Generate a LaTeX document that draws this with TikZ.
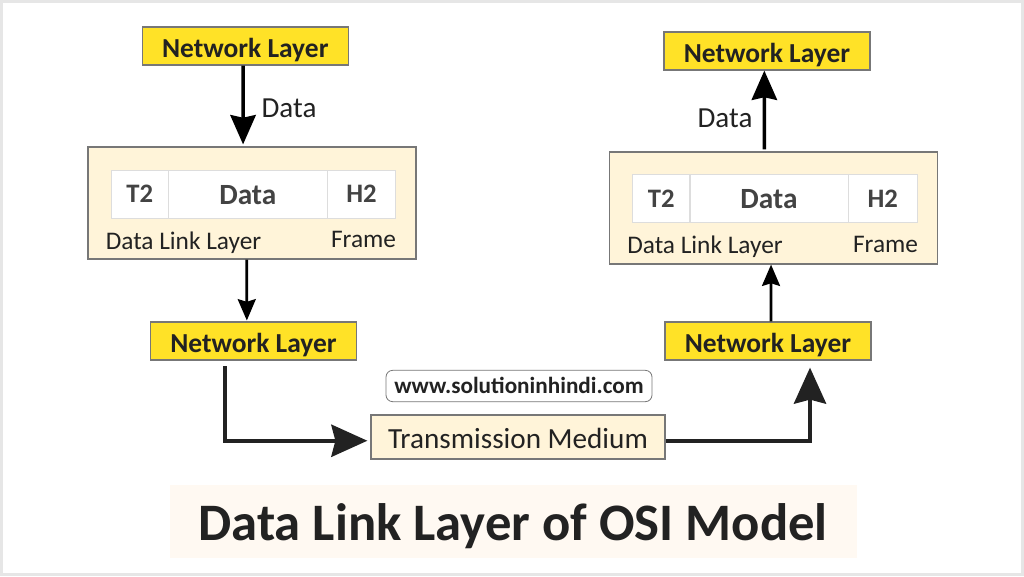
\documentclass[tikz,border=0pt]{standalone}
\usepackage{fontspec}
\setmainfont{Carlito}
\usetikzlibrary{arrows.meta}
\definecolor{ylw}{HTML}{FFE227}
\definecolor{crm}{HTML}{FFF4D9}
\definecolor{ink}{HTML}{222222}
\definecolor{edge}{HTML}{777777}
\definecolor{frm}{HTML}{E6E6E6}
\definecolor{ttl}{HTML}{FFF9F2}
\definecolor{cellline}{HTML}{DDDDDD}
\tikzset{
 x=0.75pt,y=-0.75pt,
 nlbox/.style={draw=edge,line width=0.9pt,fill=ylw,text=ink,minimum width=154.5pt,inner sep=0pt,text height=23pt,text depth=5.5pt,font=\bfseries\fontsize{20.6pt}{24pt}\selectfont},
 dlbox/.style={draw=edge,line width=0.9pt,fill=crm,minimum width=246pt,minimum height=84pt,inner sep=0pt},
 cell/.style={draw=cellline,line width=0.7pt,fill=white,text=ink!85,inner sep=0pt,text height=24.3pt,text depth=11.7pt,font=\bfseries\fontsize{20pt}{22pt}\selectfont},
 cellbig/.style={cell,text height=25.5pt,text depth=10.5pt,font=\bfseries\fontsize{22pt}{24pt}\selectfont},
 lbl/.style={text=ink,inner sep=0pt,anchor=base,font=\fontsize{19pt}{22pt}\selectfont},
 lblbig/.style={lbl,font=\fontsize{21.8pt}{24pt}\selectfont},
 fatline/.style={line width=3.3pt,draw=ink,line join=miter},
 midline/.style={line width=2.6pt,draw=black},
 thinline/.style={line width=2pt,draw=black},
 bighead/.style={-{Stealth[length=22pt,width=19pt,inset=2pt]}},
 smallhead/.style={-{Stealth[length=16pt,width=13.5pt,inset=2pt]}},
 fathead/.style={-{Stealth[length=27pt,width=24pt,inset=3pt]}},
}
\begin{document}
\begin{tikzpicture}
\useasboundingbox (0,0) rectangle (1024,576);
\fill[frm] (0,0) rectangle (1024,576);
\fill[white] (3,3) rectangle (1021,573);
\fill[ttl] (170,485) rectangle (857,558);
\node[text=ink,inner sep=0pt,anchor=base,font=\bfseries\fontsize{39.5pt}{44pt}\selectfont] (title) at (513,540) {Data Link Layer of OSI Model};

\node[nlbox] (nla) at (245.3,46) {Network Layer};
\node[dlbox] (dla) at (252,203) {};
\node[cell,minimum width=42.7pt] (ta) at (139.7,194) {T2};
\node[cellbig,minimum width=119.2pt] (da) at (247.8,194) {Data};
\node[cell,minimum width=51.3pt] (ha) at (361.5,194) {H2};
\node[lbl] (la) at (183.5,249) {Data Link Layer};
\node[lbl] (fa) at (363.5,247.7) {Frame};
\node[lblbig] (dta) at (289,117.5) {Data};
\node[nlbox] (nlc) at (253.5,341) {Network Layer};

\node[nlbox] (nlb) at (767,51) {Network Layer};
\node[dlbox] (dlb) at (773.3,208) {};
\node[cell,minimum width=42.7pt] (tb) at (661.2,198.6) {T2};
\node[cellbig,minimum width=118.5pt] (db) at (769,198.6) {Data};
\node[cell,minimum width=52pt] (hb) at (882.7,198.6) {H2};
\node[lbl] (lb) at (705,253.8) {Data Link Layer};
\node[lbl] (fb) at (885.5,252) {Frame};
\node[lblbig] (dtb) at (725,127.7) {Data};
\node[nlbox] (nld) at (768,341) {Network Layer};

\node[draw=edge,line width=0.6pt,rounded corners=5pt,fill=white,text=ink,inner sep=0pt,minimum width=199.5pt,text height=17.6pt,text depth=5.9pt,font=\bfseries\fontsize{17.4pt}{20pt}\selectfont] (url) at (519,386) {www.solutioninhindi.com};
\node[draw=edge,line width=0.9pt,fill=crm,text=ink,inner sep=0pt,minimum width=220.5pt,text height=24.9pt,text depth=8.1pt,font=\fontsize{21.9pt}{24pt}\selectfont] (tm) at (518,437) {Transmission Medium};

\draw[midline,bighead,shorten >=1.5pt] ([xshift=-1.7pt]nla.south) -- ([xshift=-6.7pt]dla.north);
\draw[thinline,smallhead,shorten >=0.7pt] ([xshift=-4pt]dla.south) -- ([xshift=-5pt]nlc.north);
\draw[fatline,fathead,shorten <=4.3pt,shorten >=2.25pt] ([xshift=-21.4pt]nlc.south) |- ([yshift=-2.8pt]tm.west);
\draw[fatline,fathead,shorten >=5.25pt] ([yshift=-2.8pt]tm.east) -| ([xshift=31.5pt]nld.south);
\draw[thinline,smallhead] ([xshift=2.25pt]nld.north) -- ([xshift=-1.7pt]dlb.south);
\draw[midline,bighead,shorten <=1.5pt] ([xshift=-6.7pt]dlb.north) -- ([xshift=-2pt]nlb.south);
\end{tikzpicture}
\end{document}
